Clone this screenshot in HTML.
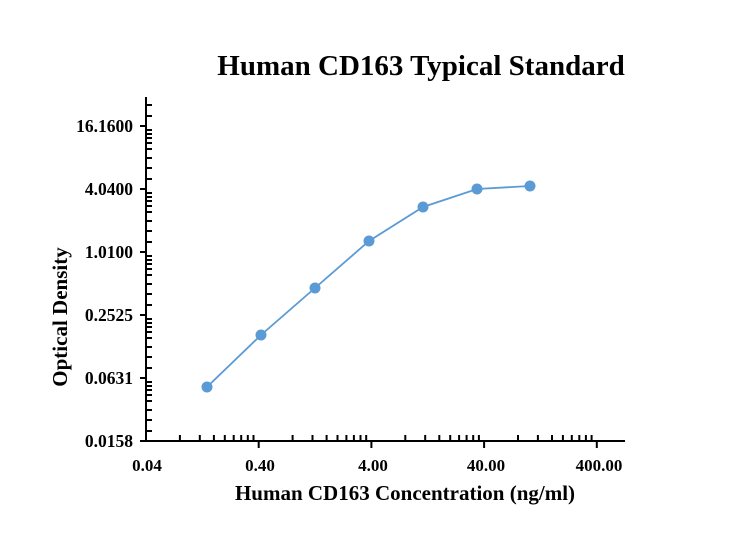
<!DOCTYPE html>
<html><head><style>body{margin:0;background:#fff}svg{display:block}</style></head><body>
<svg width="737" height="553" xmlns="http://www.w3.org/2000/svg" font-family="Liberation Serif, serif" font-weight="bold">
<text x="421" y="75" font-size="29" text-anchor="middle">Human CD163 Typical Standard</text>
<g stroke="#000" stroke-width="2" fill="none">
<line x1="146" y1="97" x2="146" y2="442"/>
<line x1="145" y1="441" x2="625" y2="441"/>
<path d="M258.7 441V448M371.4 441V448M484.1 441V448M596.8 441V448
M179.9 441V435M199.8 441V435M213.9 441V435M224.8 441V435M233.7 441V435M241.2 441V435M247.8 441V435M253.5 441V435
M292.6 441V435M312.5 441V435M326.6 441V435M337.5 441V435M346.4 441V435M353.9 441V435M360.5 441V435M366.2 441V435
M405.3 441V435M425.2 441V435M439.3 441V435M450.2 441V435M459.1 441V435M466.6 441V435M473.2 441V435M478.9 441V435
M518 441V435M537.9 441V435M552 441V435M562.9 441V435M571.8 441V435M579.3 441V435M585.9 441V435M591.6 441V435
M140 441H146M140 378H146M140 315H146M140 252H146M140 189H146M140 126H146
M146 431H152M146 420H152M146 410H152M146 401H152M146 395H152M146 390H152M146 386H152M146 382H152
M146 368H152M146 357H152M146 347H152M146 338H152M146 332H152M146 327H152M146 323H152M146 319H152
M146 305H152M146 294H152M146 284H152M146 275H152M146 269H152M146 264H152M146 260H152M146 256H152
M146 242H152M146 231H152M146 221H152M146 212H152M146 206H152M146 201H152M146 197H152M146 193H152
M146 179H152M146 168H152M146 158H152M146 149H152M146 143H152M146 138H152M146 134H152M146 130H152
M146 116H152M146 105H152"/>
</g>
<g font-size="17" text-anchor="middle">
<text x="147" y="471">0.04</text><text x="260" y="471">0.40</text><text x="373" y="471">4.00</text><text x="486" y="471">40.00</text><text x="599" y="471">400.00</text>
</g>
<g font-size="17.5" text-anchor="end">
<text x="133" y="447">0.0158</text><text x="133" y="384">0.0631</text><text x="133" y="321">0.2525</text><text x="133" y="258">1.0100</text><text x="133" y="195">4.0400</text><text x="133" y="132">16.1600</text>
</g>
<text x="405" y="500" font-size="21" text-anchor="middle">Human CD163 Concentration (ng/ml)</text>
<text transform="translate(67,317) rotate(-90)" font-size="21" text-anchor="middle">Optical Density</text>
<polyline fill="none" stroke="#5b9bd5" stroke-width="1.8" points="207,387 261,335 315,288 369,241 423,207 477,189 530,186"/>
<g fill="#5b9bd5">
<circle cx="207" cy="387" r="5.5"/><circle cx="261" cy="335" r="5.5"/><circle cx="315" cy="288" r="5.5"/><circle cx="369" cy="241" r="5.5"/><circle cx="423" cy="207" r="5.5"/><circle cx="477" cy="189" r="5.5"/><circle cx="530" cy="186" r="5.5"/>
</g>
</svg>
</body></html>
